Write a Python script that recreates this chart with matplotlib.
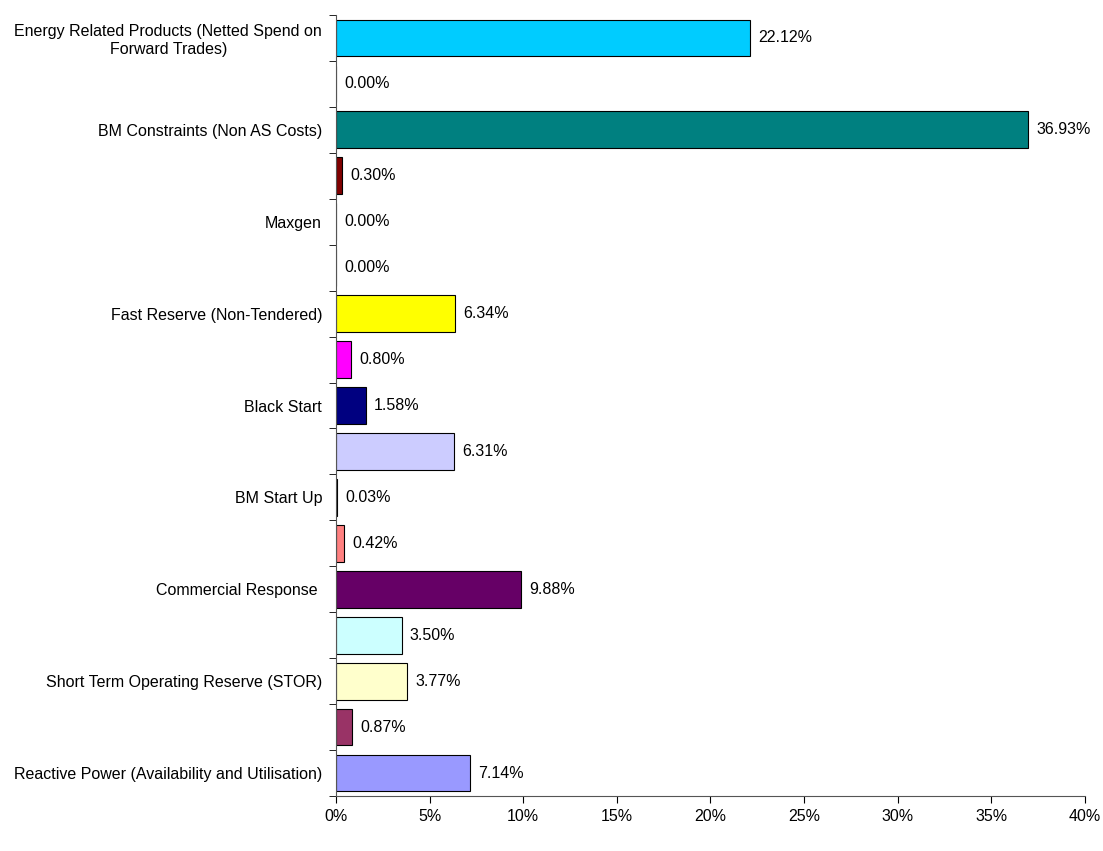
import matplotlib.pyplot as plt
from matplotlib.ticker import FixedLocator, FuncFormatter
import numpy as np

plt.rcParams['font.family'] = ['Liberation Sans', 'DejaVu Sans']

# categories listed top to bottom
categories = [
    "Energy Related Products (Netted Spend on\nForward Trades)",
    "",
    "BM Constraints (Non AS Costs)",
    "",
    "Maxgen",
    "",
    "Fast Reserve (Non-Tendered)",
    "",
    "Black Start",
    "",
    "BM Start Up",
    "",
    "Commercial Response ",
    "",
    "Short Term Operating Reserve (STOR)",
    "",
    "Reactive Power (Availability and Utilisation)",
]
shares = [22.12, 0.00, 36.93, 0.30, 0.00, 0.00, 6.34, 0.80, 1.58, 6.31,
          0.03, 0.42, 9.88, 3.50, 3.77, 0.87, 7.14]
colors = ["#00CCFF", "#FFFFFF", "#008080", "#800000", "#FFFFFF", "#FFFFFF",
          "#FFFF00", "#FF00FF", "#000080", "#CCCCFF", "#000000", "#FF8080",
          "#660066", "#CCFFFF", "#FFFFCC", "#993366", "#9999FF"]

fig = plt.figure(figsize=(11.03, 8.51), dpi=100)
ax = fig.add_axes([0.3046, 0.0646, 0.6791, 0.9178])

y = np.arange(len(categories))
ax.barh(y, shares, height=0.8, color=colors, edgecolor="black", linewidth=0.8)

for yi, v in zip(y, shares):
    ax.text(v + 0.45, yi, f"{v:.2f}%", va="center", ha="left", fontsize=11.5)

ax.set_ylim(len(categories) - 0.5, -0.5)
ax.set_xlim(0, 40)

ax.set_yticks(y)
ax.set_yticklabels(categories, fontsize=11.5)
for lbl in ax.get_yticklabels():
    lbl.set_multialignment("center")
ax.yaxis.set_minor_locator(FixedLocator(np.arange(-0.5, len(categories), 1)))
ax.tick_params(axis="y", which="major", length=0, pad=10)
ax.tick_params(axis="y", which="minor", length=5, direction="out")

ax.set_xticks(np.arange(0, 41, 5))
ax.xaxis.set_major_formatter(FuncFormatter(lambda v, p: f"{v:.0f}%"))
ax.tick_params(axis="x", length=5, direction="out", labelsize=11.5, pad=4)

for s in ["top", "right"]:
    ax.spines[s].set_visible(False)
for s in ["left", "bottom"]:
    ax.spines[s].set_color("#555555")

fig.savefig("out.png", dpi=100)
